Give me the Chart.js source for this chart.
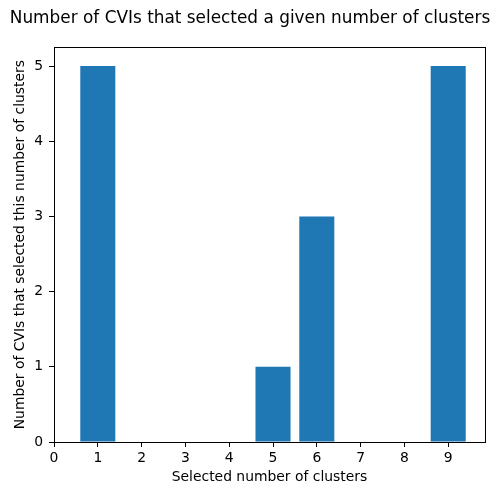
<!DOCTYPE html>
<html>
<head>
<meta charset="utf-8">
<script src="https://cdn.jsdelivr.net/npm/chart.js@4/dist/chart.umd.min.js"></script>
<style>
  html, body { margin: 0; padding: 0; background: #fff; }
</style>
</head>
<body>
<canvas id="chart" width="500" height="500"></canvas>
<script>
// selected number of clusters and how many CVIs picked each
const clusters = [1, 2, 3, 4, 5, 6, 7, 8, 9];
const counts = [5, 0, 0, 0, 1, 3, 0, 0, 5];
const xTicks = [0, 1, 2, 3, 4, 5, 6, 7, 8, 9];
const yTicks = [0, 1, 2, 3, 4, 5];

Chart.defaults.font.family = 'DejaVu Sans';
Chart.defaults.color = '#000';

// box around the plot area, like matplotlib's spines
const frame = {
    id: 'frame',
    afterDraw(chart) {
        const { ctx, chartArea: a } = chart;
        ctx.save();
        ctx.strokeStyle = '#000';
        ctx.lineWidth = 1;
        ctx.strokeRect(Math.round(a.left) + 0.5, Math.round(a.top) + 0.5,
            Math.round(a.right - a.left), Math.round(a.bottom - a.top));
        ctx.restore();
    },
};

const ctx = document.getElementById('chart').getContext('2d');
new Chart(ctx, {
    type: 'bar',
    data: {
        datasets: [{
            data: clusters.map((c, i) => ({ x: c, y: counts[i] })),
            backgroundColor: '#1f77b4',
            borderColor: '#1f77b4',
            borderWidth: 0,
            inflateAmount: 0,
            barPercentage: 0.8,
            categoryPercentage: 1,
        }],
    },
    options: {
        responsive: false,
        animation: false,
        devicePixelRatio: 1,
        layout: { padding: 0 },
        plugins: {
            legend: { display: false },
            tooltip: { enabled: false },
            title: {
                display: true,
                text: 'Number of CVIs that selected a given number of clusters',
                font: { size: 16.9, weight: 'normal' },
                padding: { top: 8, bottom: 19 },
            },
        },
        scales: {
            x: {
                type: 'linear',
                min: 0,
                max: 9.84,
                offset: false,
                afterBuildTicks: (s) => { s.ticks = xTicks.map((v) => ({ value: v })); },
                afterFit: (s) => { s.height = 58; },
                ticks: { font: { size: 13.9 }, padding: 3, maxRotation: 0, autoSkip: false },
                grid: { drawOnChartArea: false, offset: false, tickLength: 5, tickColor: '#000', tickWidth: 1 },
                border: { display: false },
                title: {
                    display: true,
                    text: 'Selected number of clusters',
                    font: { size: 13.9 },
                    padding: { top: 14, bottom: 14 },
                },
            },
            y: {
                min: 0,
                max: 5.25,
                afterBuildTicks: (s) => { s.ticks = yTicks.map((v) => ({ value: v })); },
                afterFit: (s) => { s.width = 54; },
                ticks: { font: { size: 13.9 }, padding: 6 },
                grid: { drawOnChartArea: false, tickLength: 5, tickColor: '#000', tickWidth: 1 },
                border: { display: false },
                title: {
                    display: true,
                    text: 'Number of CVIs that selected this number of clusters',
                    font: { size: 13.9 },
                    padding: { top: 12, bottom: 12 },
                },
            },
            // empty right-hand strip so the title stays centred on the page
            pad: {
                position: 'right',
                afterFit: (s) => { s.width = 15; },
                ticks: { display: false },
                grid: { display: false },
                border: { display: false },
            },
        },
    },
    plugins: [frame],
});
</script>
</body>
</html>
